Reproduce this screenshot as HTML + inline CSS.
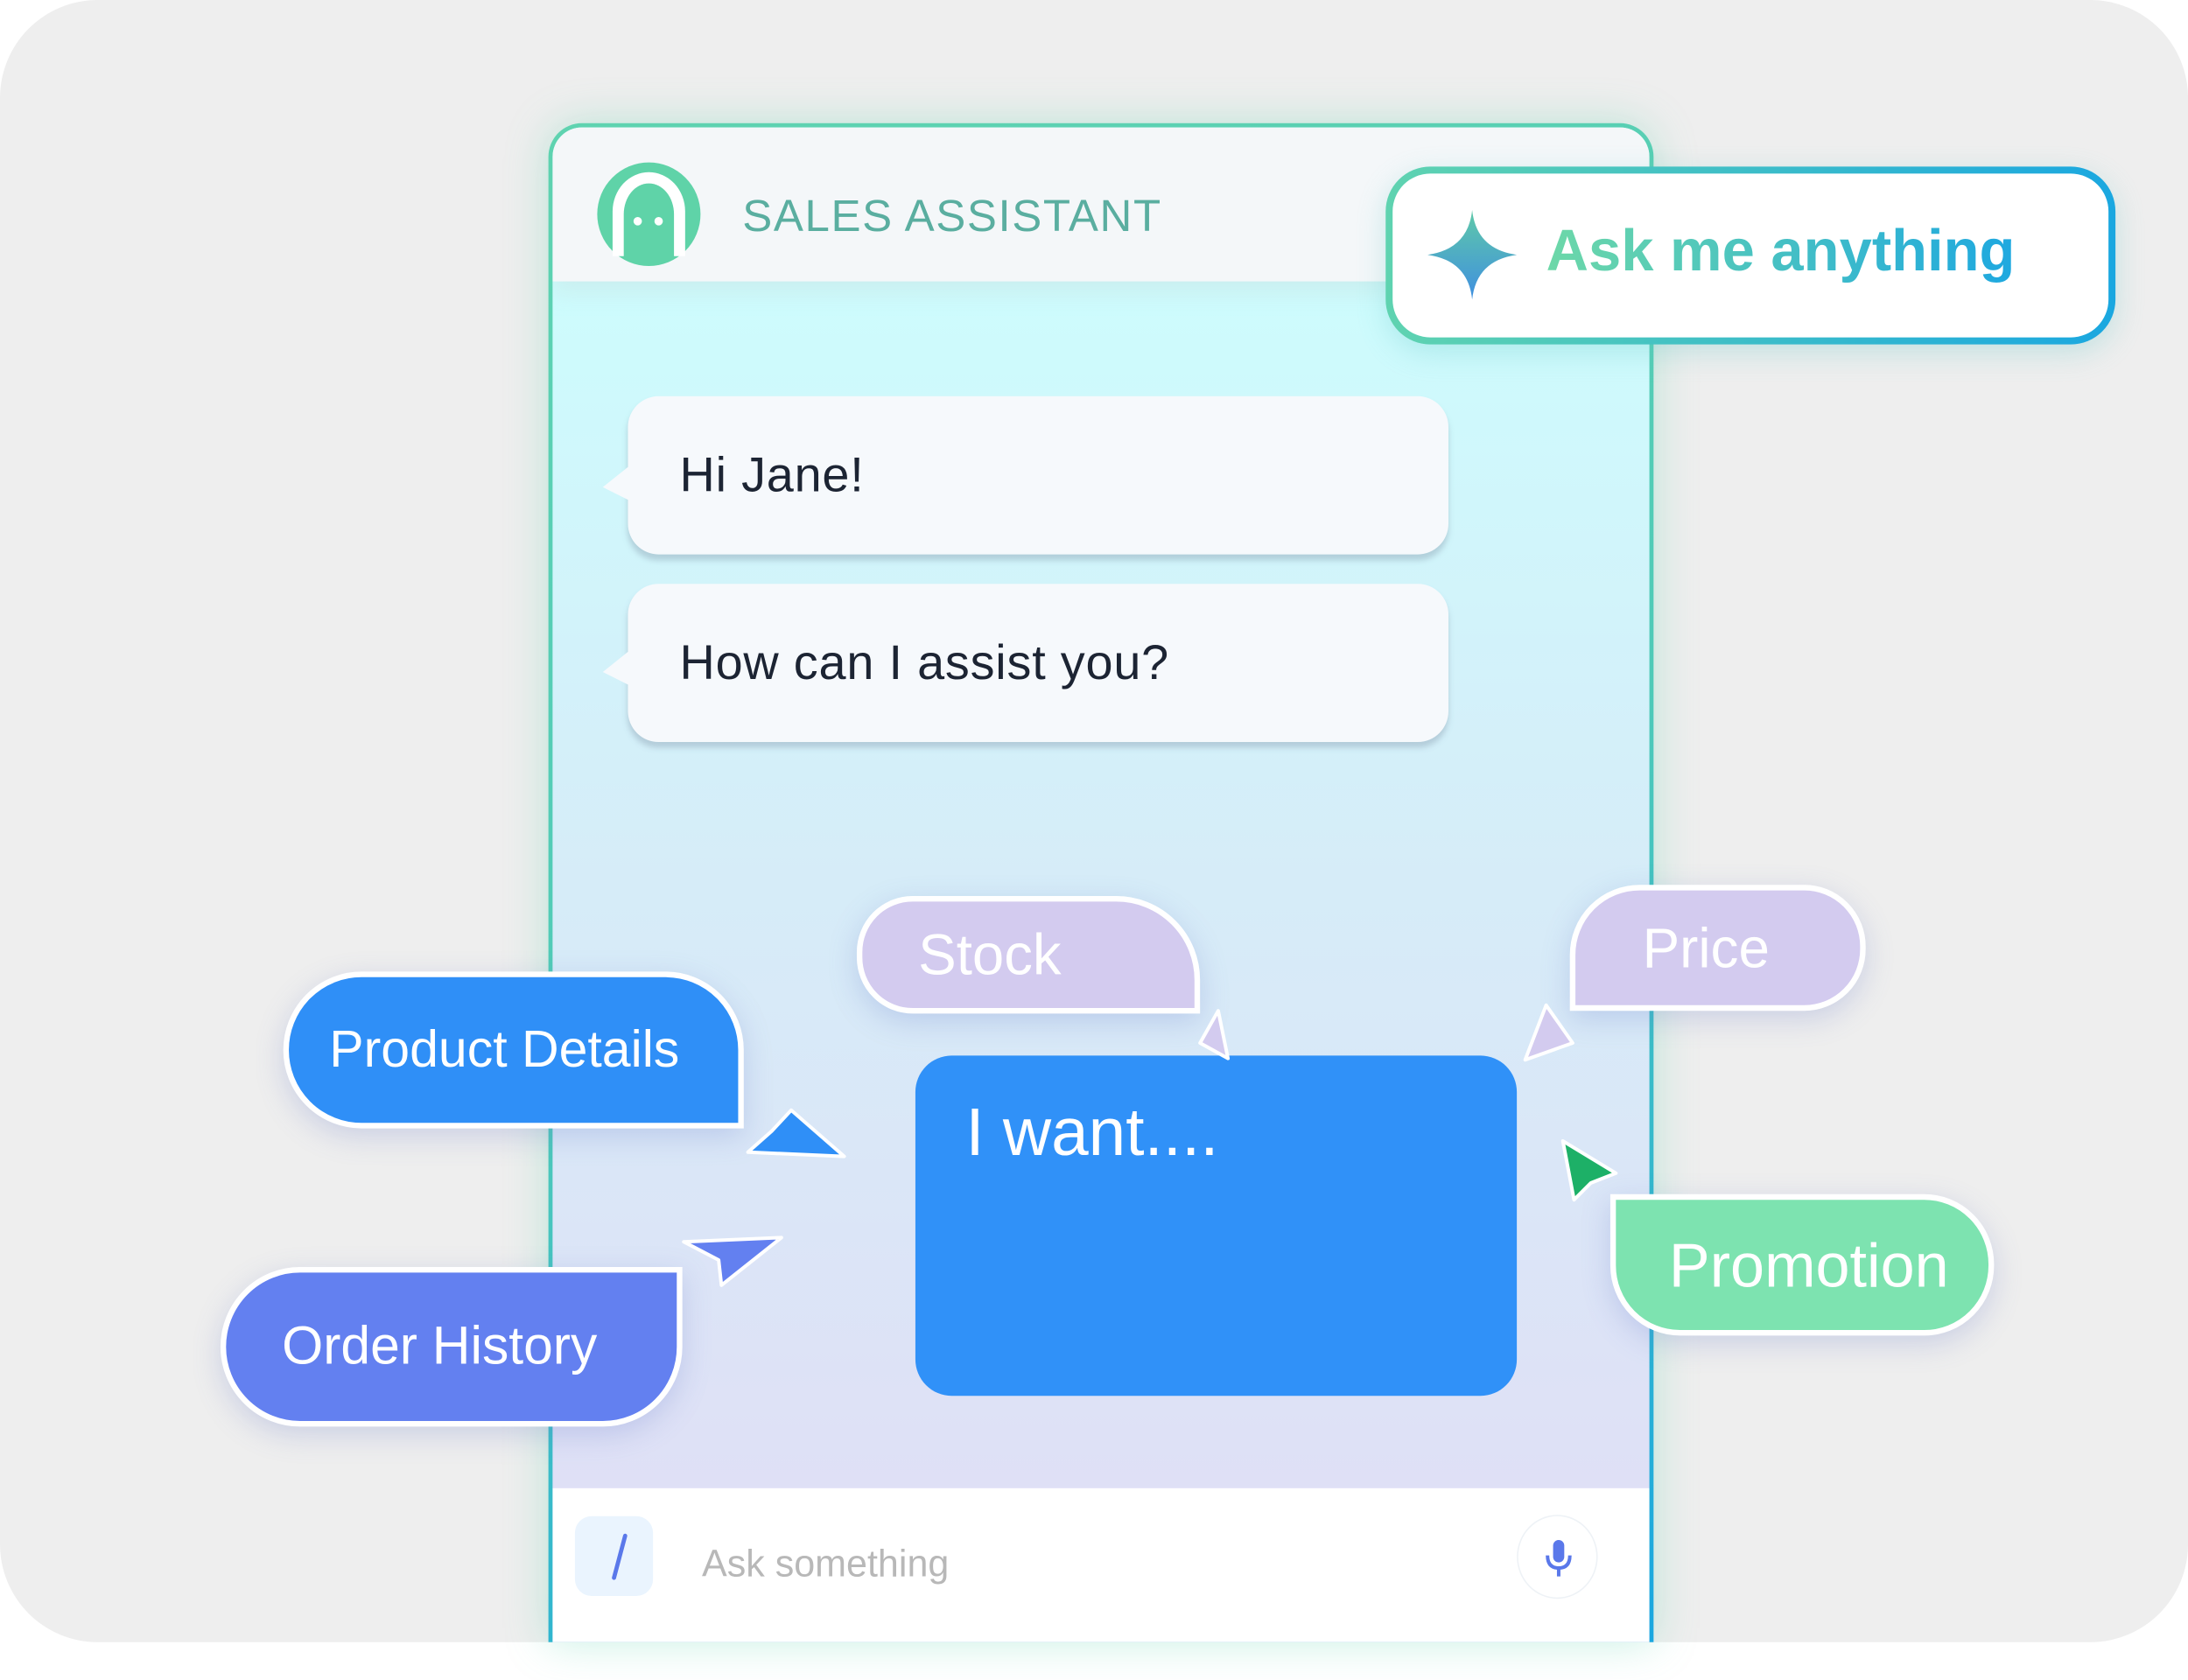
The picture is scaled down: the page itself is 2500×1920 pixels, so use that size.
<!DOCTYPE html>
<html><head><meta charset="utf-8"><style>
html,body{margin:0;padding:0;width:2500px;height:1920px;overflow:hidden;background:#fff}
#s{position:absolute;left:0;top:0;width:1568px;height:1200px;transform-origin:0 0;transform:scale(1.5944,1.6);font-family:"Liberation Sans",sans-serif}
.a{position:absolute}
.bg{left:0;top:0;width:1568px;height:1173px;background:#eeeeee;border-radius:70px}
.panel{left:393px;top:88px;width:792px;height:1085px;border-radius:24px 24px 0 0;background:linear-gradient(160deg,#5fd3b0 0%,#4fcab8 50%,#1aa7e0 100%);box-shadow:0 0 30px rgba(95,211,176,.35)}
.inner{left:3px;top:3px;right:3px;bottom:0;border-radius:21px 21px 0 0;overflow:hidden;background:linear-gradient(180deg,#cdfcfd 10%,#d6ecf8 50%,#dfe0f6 90%)}
.head{left:0;top:0;right:0;height:110px;background:#f4f7f9;box-shadow:0 8px 14px rgba(200,230,230,.6)}
.foot{left:0;top:972px;right:0;bottom:0;background:#fff}
.bub{background:#f6f9fc;border-radius:22px;box-shadow:0 4px 4px rgba(120,140,160,.35);font-size:35px;letter-spacing:0.5px;color:#1c2433;box-sizing:border-box;padding-left:37px;line-height:113px}
.tag{border:4px solid #fff;color:#fff;box-sizing:border-box;box-shadow:0 6px 20px rgba(100,120,200,.25)}
</style></head><body><div id="s">
<div class="a bg"></div>
<div class="a panel"><div class="a inner">
 <div class="a head"></div>
 <div class="a foot"></div>
</div></div>
<svg class="a" style="left:425px;top:113px" width="80" height="80" viewBox="0 0 80 80">
<circle cx="40" cy="40" r="37" fill="#5fd3a8"/>
<path d="M14 70 V38 A26 28 0 0 1 66 38 V70 Z" fill="#fff"/>
<path d="M22 72 V40 A18 22 0 0 1 58 40 V72 Z" fill="#5fd3a8"/>
<circle cx="32" cy="45" r="3" fill="#fff"/><circle cx="47" cy="45" r="3" fill="#fff"/>
</svg>
<div class="a" style="left:532px;top:136px;font-size:32px;color:#5aaea0;letter-spacing:1px">SALES ASSISTANT</div>
<div class="a" style="left:993px;top:119px;width:523px;height:127px;border-radius:32px;background:linear-gradient(90deg,#5fd3b0,#1aa7e0);box-shadow:0 6px 20px rgba(100,200,200,.3)">
 <div class="a" style="left:5px;top:5px;right:5px;bottom:5px;border-radius:27px;background:#fff"></div>
</div>
<svg class="a" style="left:1023px;top:150px" width="64" height="64" viewBox="0 0 64 64">
<defs><linearGradient id="g" x1="0" y1="0" x2="0" y2="1"><stop offset="0" stop-color="#5fc9a8"/><stop offset="1" stop-color="#3f8fe0"/></linearGradient></defs>
<path d="M32 0 Q35 28 64 32 Q35 36 32 64 Q29 36 0 32 Q29 28 32 0Z" fill="url(#g)"/></svg>
<div class="a" style="left:1108px;top:155px;font-size:42px;font-weight:bold;background:linear-gradient(90deg,#6dd8a8,#1ea8e0);-webkit-background-clip:text;background-clip:text;color:transparent">Ask me anything</div>
<div class="a bub" style="left:450px;top:283px;width:588px;height:113px">Hi Jane!</div>
<div class="a bub" style="left:450px;top:417px;width:588px;height:113px">How can I assist you?</div>
<svg class="a" style="left:430px;top:330px" width="24" height="30"><path d="M22 2 L2 18 L22 28Z" fill="#f6f9fc"/></svg>
<svg class="a" style="left:430px;top:462px" width="24" height="30"><path d="M22 2 L2 18 L22 28Z" fill="#f6f9fc"/></svg>
<div class="a" style="left:656px;top:754px;width:431px;height:243px;background:#3091f8;border-radius:26px"></div>
<div class="a" style="left:692px;top:782px;font-size:48px;color:#fff">I want....</div>
<div class="a tag" style="left:614px;top:640px;width:246px;height:84px;background:#d3cbef;border-radius:40px 60px 0 40px;font-size:41px;line-height:76px;padding-left:40px">Stock</div>
<div class="a tag" style="left:1125px;top:632px;width:212px;height:90px;background:#d3cbef;border-radius:50px 44px 44px 0;font-size:40px;line-height:84px;padding-left:48px">Price</div>
<div class="a tag" style="left:203px;top:694px;width:330px;height:112px;background:#2f8ff7;border-radius:56px 56px 0 56px;font-size:37px;line-height:104px;padding-left:29px">Product Details</div>
<div class="a tag" style="left:158px;top:905px;width:331px;height:114px;background:#6380f0;border-radius:57px 0 57px 57px;font-size:38px;line-height:106px;padding-left:40px">Order History</div>
<div class="a tag" style="left:1154px;top:853px;width:275px;height:101px;background:#7de3b0;border-radius:0 50px 50px 50px;font-size:44px;line-height:96px;padding-left:38px">Promotion</div>
<svg class="a" style="left:0;top:0" width="1568" height="1200">
<g stroke="#fff" stroke-width="2.5" stroke-linejoin="round">
<path d="M873 722 L880 756 L860 745 Z" fill="#d3cbef"/>
<path d="M1108 718 L1127 745 L1093 757 Z" fill="#d3cbef"/>
<path d="M567 793 L605 826 L536 823 L553 808 Z" fill="#2f8ff7"/>
<path d="M490 887 L560 884 L517 918 L515 900 Z" fill="#6380f0"/>
<path d="M1120 815 L1158 838 L1140 845 L1128 857 Z" fill="#1db067"/>
</g></svg>
<div class="a" style="left:412px;top:1083px;width:56px;height:57px;background:#eaf4fe;border-radius:12px"></div>
<svg class="a" style="left:412px;top:1083px" width="56" height="57"><line x1="36" y1="14" x2="28" y2="44" stroke="#5a78ea" stroke-width="3" stroke-linecap="round"/></svg>
<div class="a" style="left:503px;top:1102px;font-size:27px;color:#b8b8b8">Ask something</div>
<div class="a" style="left:1087px;top:1082px;width:58px;height:60px;border-radius:50%;border:1.5px solid #eef2f6;background:#fff;box-sizing:border-box"></div>
<svg class="a" style="left:1105px;top:1098px" width="24" height="30"><rect x="8" y="2" width="8" height="16" rx="4" fill="#5a78ea"/><path d="M4 13 Q4 22 12 22 Q20 22 20 13" stroke="#5a78ea" stroke-width="2.5" fill="none"/><line x1="12" y1="22" x2="12" y2="28" stroke="#5a78ea" stroke-width="2.5"/></svg>
</div></body></html>
